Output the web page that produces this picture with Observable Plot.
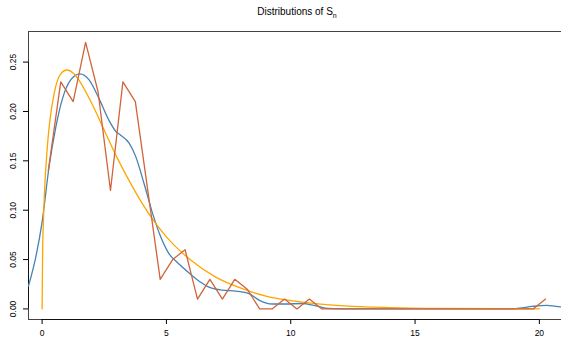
<!DOCTYPE html>
<html><head><meta charset="utf-8">
<script src="https://cdn.jsdelivr.net/npm/d3@7"></script>
<script src="https://cdn.jsdelivr.net/npm/@observablehq/plot@0.6"></script>
<style>
body{margin:0;background:#fff;overflow:hidden}
#chart svg{display:block}
</style>
</head><body><div id="chart"></div>
<script>
const titleMain = "Distributions of S";
const titleSub = "n";
const xTicks = [0, 5, 10, 15, 20];
const yTicks = [0, 0.05, 0.10, 0.15, 0.20, 0.25];

// empirical (red, linear)
const empX = [0.25,0.75,1.25,1.75,2.25,2.75,3.25,3.75,4.25,4.75,5.25,5.75,6.25,6.75,7.25,7.75,8.25,8.75,9.25,9.75,10.25,10.75,11.25,11.75,12.25,12.75,13.25,13.75,14.25,14.75,15.25,15.75,16.25,16.75,17.25,17.75,18.25,18.75,19.25,19.75,20.25];
const empY = [0.14,0.23,0.21,0.27,0.22,0.12,0.23,0.21,0.12,0.03,0.05,0.06,0.01,0.03,0.01,0.03,0.02,0,0,0.01,0,0.01,0,0,0,0,0,0,0,0,0,0,0,0,0,0,0,0,0,0,0.01];

// smoothed density (blue)
const kdeX = [-0.55,-0.25,0,0.28,0.55,0.82,1.15,1.52,1.89,2.29,2.69,2.96,3.16,3.5,3.77,4.1,4.44,4.77,5.1,5.44,5.98,6.38,6.71,7.25,7.79,8.32,8.72,9.26,9.79,10.46,10.93,11.47,12,13,14,15,16,17,18,18.8,19.2,19.7,20.3,20.85];
const kdeY = [0.023,0.053,0.088,0.144,0.184,0.213,0.232,0.238,0.232,0.213,0.191,0.180,0.176,0.168,0.154,0.127,0.097,0.073,0.056,0.047,0.035,0.027,0.022,0.019,0.018,0.0155,0.009,0.005,0.005,0.0055,0.0037,0.0005,0,0,0,0,0,0,0,0,0.0008,0.0025,0.0037,0.002];

// theoretical curve (orange)
const thX = [0,0.02,0.05,0.1,0.2,0.3,0.5,0.75,1,1.25,1.5,2,2.5,3,3.5,4,4.5,5,6,7,8,9,10,11,12,14,16,18,20];
const thY = [0,0.056,0.087,0.120,0.161,0.188,0.220,0.238,0.242,0.239,0.231,0.208,0.181,0.154,0.130,0.108,0.089,0.073,0.049,0.032,0.021,0.013,0.0085,0.0054,0.0034,0.0014,0.0005,0.0002,0.0001];

const emp = empX.map((x, i) => ({x, y: empY[i]}));
const kde = kdeX.map((x, i) => ({x, y: kdeY[i]}));
const th = thX.map((x, i) => ({x, y: thY[i]}));

const xDomain = [-0.547, 20.89];
const yDomain = [-0.0107, 0.281];
const boxColor = "#444";

const chart = Plot.plot({
  width: 561,
  height: 338,
  marginLeft: 28,
  marginRight: 0,
  marginTop: 31,
  marginBottom: 19,
  style: {fontFamily: "'Liberation Sans', Arial, Helvetica, sans-serif", fontSize: "8.5px", color: "#000", background: "#fff"},
  x: {domain: xDomain, axis: null},
  y: {domain: yDomain, axis: null},
  marks: [
    Plot.ruleY([yDomain[1]], {stroke: boxColor, strokeWidth: 1}),
    Plot.ruleY([yDomain[0]], {stroke: boxColor, strokeWidth: 1}),
    Plot.ruleX([xDomain[0]], {stroke: boxColor, strokeWidth: 1}),
    Plot.ruleY([yDomain[0]], {x1: xTicks[0], x2: xTicks[xTicks.length - 1], stroke: "#111"}),
    Plot.ruleX([xDomain[0]], {y1: yTicks[0], y2: yTicks[yTicks.length - 1], stroke: "#111"}),
    Plot.axisX({ticks: xTicks, anchor: "bottom", tickSize: 5, tickPadding: 5, fontSize: 8.5, label: null}),
    Plot.axisY({ticks: yTicks, anchor: "left", tickSize: 5, tickPadding: 8, tickRotate: -90, tickFormat: d3.format(".2f"), fontSize: 8.5, label: null}),
    Plot.line(kde, {x: "x", y: "y", stroke: "#4682B4", strokeWidth: 1.3, curve: "monotone-x"}),
    Plot.line(th, {x: "x", y: "y", stroke: "#FFA500", strokeWidth: 1.3, curve: "monotone-x"}),
    Plot.line(emp, {x: "x", y: "y", stroke: "#D0643A", strokeWidth: 1.3})
  ]
});

const svg = d3.select(chart);
const t = svg.append("text")
  .attr("x", 297)
  .attr("y", 15)
  .attr("text-anchor", "middle")
  .attr("font-size", 10)
  .attr("fill", "#000")
  .attr("font-family", "'Liberation Sans', Arial, Helvetica, sans-serif");
t.append("tspan").text(titleMain);
t.append("tspan").attr("dy", 3).attr("font-size", 7).text(titleSub);

document.getElementById("chart").appendChild(chart);
</script>
</body></html>
